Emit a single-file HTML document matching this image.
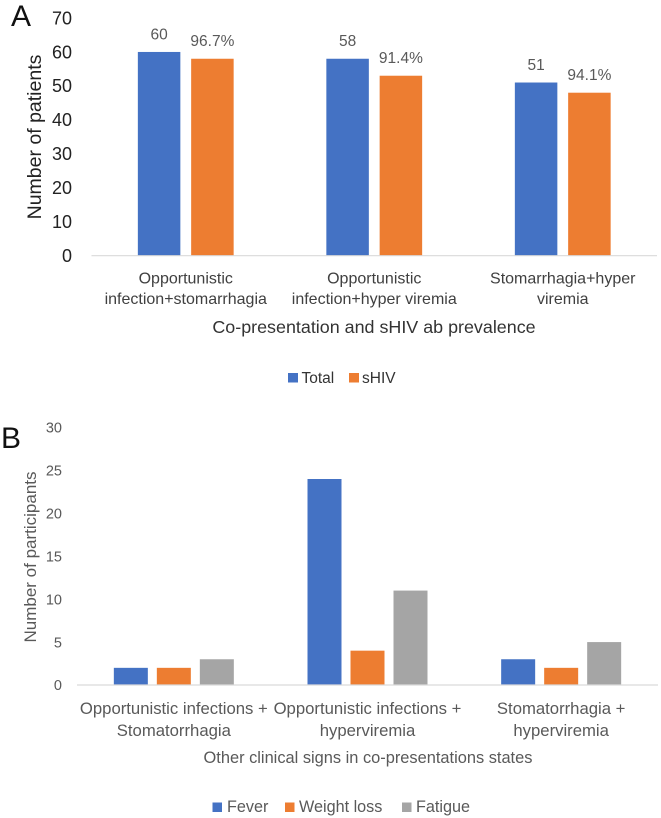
<!DOCTYPE html>
<html lang="en">
<head>
<meta charset="utf-8">
<title>Co-presentation charts</title>
<style>
html,body{margin:0;padding:0;background:#fff;width:661px;height:818px;overflow:hidden}
svg{display:block}
text{font-family:"Liberation Sans",sans-serif}
</style>
</head>
<body>
<svg id="figure" width="661" height="818" viewBox="0 0 661 818" xmlns="http://www.w3.org/2000/svg">
  <rect width="661" height="818" fill="#ffffff"/>
  <g id="panel-a"></g>
  <g id="panel-b"></g>
  <text x="11" y="26" font-size="30" fill="#111">A</text>
  <text x="1" y="448" font-size="30" fill="#111">B</text>
  <text transform="translate(41 137) rotate(-90)" text-anchor="middle" font-size="19.5" fill="#222">Number of patients</text>
  <text x="374" y="333" text-anchor="middle" font-size="17.9" fill="#333">Co-presentation and sHIV ab prevalence</text>
  <text transform="translate(36 557) rotate(-90)" text-anchor="middle" font-size="17" fill="#595959">Number of participants</text>
  <text x="368" y="763" text-anchor="middle" font-size="16.4" fill="#595959">Other clinical signs in co-presentations states</text>
  <g>
    <rect x="288" y="373" width="10" height="9.5" fill="#4472C4"/>
    <text x="301.5" y="383" font-size="15.5" fill="#333">Total</text>
    <rect x="349" y="373" width="10" height="9.5" fill="#ED7D31"/>
    <text x="362" y="383" font-size="15.5" fill="#333">sHIV</text>
  </g>
  <g>
    <rect x="212.5" y="802.5" width="9.5" height="9.5" fill="#4472C4"/>
    <text x="227" y="812" font-size="16.2" fill="#595959">Fever</text>
    <rect x="285" y="802.5" width="9.5" height="9.5" fill="#ED7D31"/>
    <text x="299" y="812" font-size="16.2" fill="#595959">Weight loss</text>
    <rect x="402" y="802.5" width="9.5" height="9.5" fill="#A5A5A5"/>
    <text x="416" y="812" font-size="16.2" fill="#595959">Fatigue</text>
  </g>
</svg>
<script>
// Panel A data
const aCategories = [["Opportunistic", "infection+stomarrhagia"], ["Opportunistic", "infection+hyper viremia"], ["Stomarrhagia+hyper", "viremia"]];
const aTotal = [60, 58, 51];
const aSHIV = [58, 53, 48];
const aTotalLabels = ["60", "58", "51"];
const aSHIVLabels = ["96.7%", "91.4%", "94.1%"];
const aTicks = [0, 10, 20, 30, 40, 50, 60, 70];

// Panel B data
const bCategories = [["Opportunistic infections +", "Stomatorrhagia"], ["Opportunistic infections +", "hyperviremia"], ["Stomatorrhagia +", "hyperviremia"]];
const bFever = [2, 24, 3];
const bWeightLoss = [2, 4, 2];
const bFatigue = [3, 11, 5];
const bTicks = [0, 5, 10, 15, 20, 25, 30];

const SVGNS = "http://www.w3.org/2000/svg";

function shape(parent, tag, attrs, content) {
  const el = document.createElementNS(SVGNS, tag);
  for (const key in attrs) el.setAttribute(key, attrs[key]);
  if (content !== undefined) el.textContent = content;
  parent.appendChild(el);
  return el;
}

function drawPanel(root, cfg) {
  const yScale = v => cfg.baseY - (v - cfg.yMin) * (cfg.baseY - cfg.topY) / (cfg.yMax - cfg.yMin);
  const band = (cfg.right - cfg.left) / cfg.categories.length;
  const xCenter = i => cfg.left + band * (i + 0.5);
  const xBar = (i, s) => xCenter(i) + (s - (cfg.series.length - 1) / 2) * cfg.step - cfg.barWidth / 2;

  cfg.ticks.forEach(tick => {
    const label = shape(root, "text", {
      x: cfg.tickX, y: yScale(tick) + cfg.tickDy, "text-anchor": "end",
      "font-size": cfg.tickSize, fill: cfg.tickColor
    }, String(tick));
    
    
  });

  cfg.series.forEach((series, s) => {
    series.values.forEach((value, i) => {
      const bar = shape(root, "rect", {
        x: xBar(i, s), y: yScale(value), width: cfg.barWidth,
        height: yScale(cfg.yMin) - yScale(value), fill: series.color
      });
      
      

      if (series.labels) {
        const printed = shape(root, "text", {
          x: xBar(i, s) + cfg.barWidth / 2, y: yScale(value) - cfg.valueGap,
          "text-anchor": "middle", "font-size": cfg.valueSize, fill: "#595959"
        }, series.labels[i]);
        
        
      }
    });
  });

  const axis = shape(root, "line", {
    x1: cfg.left, x2: cfg.right, y1: yScale(cfg.yMin), y2: yScale(cfg.yMin),
    stroke: "#d9d9d9", "stroke-width": 1.2
  });
  
  

  cfg.categories.forEach((lines, i) => {
    lines.forEach((line, n) => {
      const cat = shape(root, "text", {
        x: xCenter(i), y: cfg.catY + n * cfg.catLineHeight, "text-anchor": "middle",
        "font-size": cfg.catSize, fill: cfg.catColor
      }, line);
      
      
    });
  });
}

drawPanel(document.getElementById("panel-a"), {
  categories: aCategories,
  series: [
    { name: "total", values: aTotal, labels: aTotalLabels, color: "#4472C4" },
    { name: "shiv", values: aSHIV, labels: aSHIVLabels, color: "#ED7D31" }
  ],
  ticks: aTicks, yMin: 0, yMax: 70, baseY: 255.7, topY: 18,
  left: 91.5, right: 657, barWidth: 42.5, step: 53.3,
  tickX: 72, tickDy: 6.3, tickSize: 18, tickColor: "#222",
  valueGap: 12.6, valueSize: 15.5,
  catY: 283.5, catLineHeight: 20.5, catSize: 16, catColor: "#404040"
});

drawPanel(document.getElementById("panel-b"), {
  categories: bCategories,
  series: [
    { name: "fever", values: bFever, color: "#4472C4" },
    { name: "weight-loss", values: bWeightLoss, color: "#ED7D31" },
    { name: "fatigue", values: bFatigue, color: "#A5A5A5" }
  ],
  ticks: bTicks, yMin: 0, yMax: 30, baseY: 685, topY: 427.5,
  left: 77, right: 658, barWidth: 34, step: 43,
  tickX: 62, tickDy: 5.2, tickSize: 14.5, tickColor: "#595959",
  valueGap: 10, valueSize: 14,
  catY: 714, catLineHeight: 22, catSize: 16.7, catColor: "#595959"
});
</script>
</body>
</html>
